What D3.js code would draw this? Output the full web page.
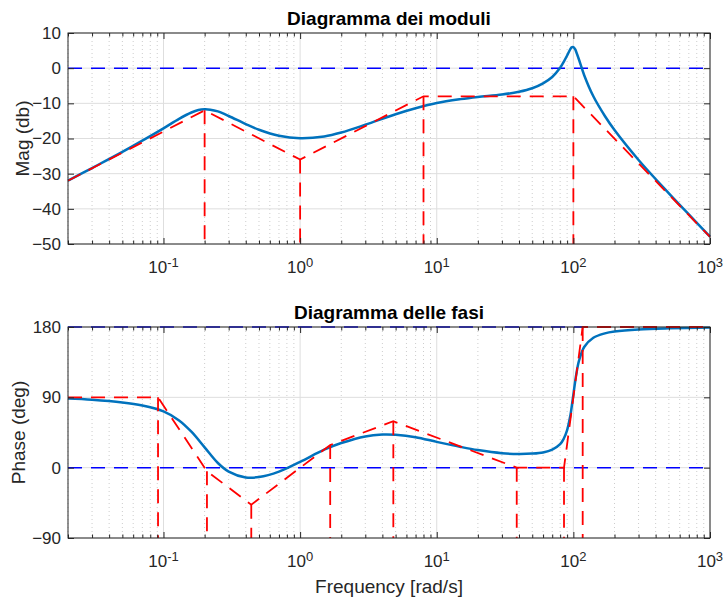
<!DOCTYPE html>
<html>
<head>
<meta charset="utf-8">
<script src="https://cdn.jsdelivr.net/npm/d3@7"></script>
<style>
  body { margin: 0; background: #fff; }
  svg { display: block; font-family: "Liberation Sans", Arial, Helvetica, sans-serif; }
</style>
</head>
<body>
<div id="chart"></div>
<script>
// Values
const magFreq = [0.02, 0.03, 0.05, 0.07, 0.1, 0.13, 0.16, 0.18, 0.2, 0.22, 0.25, 0.3, 0.4, 0.5, 0.7, 1, 1.5, 2, 3, 5, 7, 10, 15, 20, 30, 40, 50, 60, 70, 80, 85, 90, 95, 97, 100, 103, 105, 110, 120, 140, 170, 200, 300, 500, 700, 1000];
const magDb = [-32.0, -28.4, -23.8, -20.6, -17.1, -14.4, -12.6, -11.9, -11.7, -11.8, -12.3, -13.6, -15.9, -17.5, -19.2, -19.9, -19.4, -18.3, -16.1, -13.1, -11.4, -9.9, -8.8, -8.2, -7.5, -6.7, -5.7, -4.3, -2.5, 0.1, 1.8, 3.6, 5.4, 5.9, 6.0, 5.4, 4.6, 2.4, -2.0, -8.0, -13.6, -17.6, -26.1, -35.6, -41.6, -47.9];

const magAsymFreq = [0.02, 0.2, 1, 8, 100, 1000];
const magAsymDb = [-32, -12, -26, -8, -8, -48];

const phaseFreq = [0.02, 0.03, 0.05, 0.07, 0.1, 0.13, 0.16, 0.2, 0.25, 0.3, 0.4, 0.5, 0.7, 1, 1.5, 2, 3, 4, 5, 7, 10, 15, 20, 30, 40, 50, 60, 70, 80, 85, 90, 95, 97, 100, 103, 105, 110, 120, 140, 170, 200, 300, 500, 1000];
const phaseDeg = [88.5, 87.0, 83.5, 79.5, 72.0, 60.5, 46.0, 26.0, 6.0, -5.0, -12.5, -12.0, -5.0, 7.5, 23.0, 31.5, 40.0, 42.3, 42.0, 39.0, 33.0, 26.5, 22.5, 18.5, 17.5, 18.0, 19.5, 23.0, 30.0, 37.0, 48.0, 66.6, 76.7, 93.5, 109.9, 119.4, 136.9, 154.4, 166.3, 171.9, 174.2, 176.9, 178.3, 179.2];

const phaseAsymFreq = [0.02, 0.0912, 0.208, 0.439, 1.66, 4.81, 38.5, 85.4, 117, 1000];
const phaseAsymDeg = [90, 90, -4.6, -47.4, 29, 59.4, 0, 0, 180, 180];

const xTickExp = [-1, 0, 1, 2, 3];
const magTicks = [-50, -40, -30, -20, -10, 0, 10];
const phaseTicks = [-90, 0, 90, 180];

const width = 725, height = 598;
const axisColor = "#262626";

const svg = d3.select("#chart").append("svg")
  .attr("width", width)
  .attr("height", height);

const x = d3.scaleLog().domain([0.02, 1000]).range([68, 710]);
const majorX = xTickExp.map(e => Math.pow(10, e));
const minorX = x.ticks().filter(v => !majorX.some(m => Math.abs(v / m - 1) < 1e-6));

const panels = [
  {
    top: 33, bottom: 244, domain: [-50, 10], ticks: magTicks,
    title: "Diagramma dei moduli", ylabel: "Mag (db)", ylabelX: 29,
    refs: [0], freq: magFreq, vals: magDb, asymF: magAsymFreq, asymV: magAsymDb
  },
  {
    top: 327, bottom: 538, domain: [-90, 180], ticks: phaseTicks,
    title: "Diagramma delle fasi", ylabel: "Phase (deg)", ylabelX: 25,
    refs: [0, 180], freq: phaseFreq, vals: phaseDeg, asymF: phaseAsymFreq, asymV: phaseAsymDeg
  }
];

panels.forEach(p => {
  const y = d3.scaleLinear().domain(p.domain).range([p.bottom, p.top]);
  const g = svg.append("g");

  // grid
  g.append("g").selectAll("line").data(minorX).join("line")
    .attr("x1", d => x(d)).attr("x2", d => x(d))
    .attr("y1", p.top).attr("y2", p.bottom)
    .attr("stroke", "#cdcdcd").attr("stroke-width", 1)
    .attr("stroke-dasharray", "1,3");
  g.append("g").selectAll("line").data(majorX).join("line")
    .attr("x1", d => x(d)).attr("x2", d => x(d))
    .attr("y1", p.top).attr("y2", p.bottom)
    .attr("stroke", "#dedede").attr("stroke-width", 1);
  g.append("g").selectAll("line").data(p.ticks).join("line")
    .attr("x1", 68).attr("x2", 710)
    .attr("y1", d => y(d)).attr("y2", d => y(d))
    .attr("stroke", "#dedede").attr("stroke-width", 1);

  // reference lines
  g.append("g").selectAll("line").data(p.refs).join("line")
    .attr("x1", 68).attr("x2", 710)
    .attr("y1", d => y(d)).attr("y2", d => y(d))
    .attr("stroke", "#0000ff").attr("stroke-width", 1.5)
    .attr("stroke-dasharray", "14,9");

  // exact curve
  const pts = p.freq.map((f, i) => [f, p.vals[i]]);
  const line = d3.line()
    .x(d => x(d[0]))
    .y(d => y(d[1]))
    .curve(d3.curveCatmullRom.alpha(0.5));
  g.append("path")
    .datum(pts)
    .attr("fill", "none")
    .attr("stroke", "#0072bd")
    .attr("stroke-width", 2.5)
    .attr("d", line);

  // asymptotic approximation
  const asym = p.asymF.map((f, i) => [f, p.asymV[i]]);
  g.append("path")
    .datum(asym)
    .attr("fill", "none")
    .attr("stroke", "#ff0000")
    .attr("stroke-width", 1.8)
    .attr("stroke-dasharray", "14,9")
    .attr("d", d3.line().x(d => x(d[0])).y(d => y(d[1])));

  g.append("g").selectAll("line").data(asym.slice(1, -1)).join("line")
    .attr("x1", d => x(d[0])).attr("x2", d => x(d[0]))
    .attr("y1", d => y(d[1])).attr("y2", p.bottom)
    .attr("stroke", "#ff0000").attr("stroke-width", 1.8)
    .attr("stroke-dasharray", "14,9");

  // axes with inward ticks
  const h = p.bottom - p.top;
  const ax = g.append("g").attr("color", axisColor);
  ax.append("g").attr("transform", `translate(0,${p.bottom})`)
    .call(d3.axisBottom(x).tickValues(majorX).tickSize(-6).tickSizeOuter(0).tickFormat(""));
  ax.append("g").attr("transform", `translate(0,${p.bottom})`)
    .call(d3.axisBottom(x).tickValues(minorX).tickSize(-3.5).tickSizeOuter(0).tickFormat(""));
  ax.append("g").attr("transform", `translate(0,${p.top})`)
    .call(d3.axisTop(x).tickValues(majorX).tickSize(-6).tickSizeOuter(0).tickFormat(""));
  ax.append("g").attr("transform", `translate(0,${p.top})`)
    .call(d3.axisTop(x).tickValues(minorX).tickSize(-3.5).tickSizeOuter(0).tickFormat(""));
  ax.append("g").attr("transform", "translate(68,0)")
    .call(d3.axisLeft(y).tickValues(p.ticks).tickSize(-6).tickSizeOuter(0).tickPadding(7))
    .call(s => s.selectAll("text").attr("font-size", 17).attr("font-family", null).attr("fill", axisColor));
  ax.append("g").attr("transform", "translate(710,0)")
    .call(d3.axisRight(y).tickValues(p.ticks).tickSize(-6).tickSizeOuter(0).tickFormat(""));
  ax.selectAll(".domain").remove();

  g.append("rect")
    .attr("x", 68).attr("y", p.top)
    .attr("width", 642).attr("height", h)
    .attr("fill", "none").attr("stroke", axisColor).attr("stroke-width", 1);

  // x tick labels 10^n
  const lab = g.append("g").selectAll("text").data(xTickExp).join("text")
    .attr("x", d => x(Math.pow(10, d)))
    .attr("y", p.bottom + 29)
    .attr("text-anchor", "middle")
    .attr("font-size", 17)
    .attr("fill", axisColor);
  lab.append("tspan").text("10");
  lab.append("tspan").attr("dy", -6).attr("font-size", 13).text(d => d);

  // title and y label
  g.append("text")
    .attr("x", (68 + 710) / 2).attr("y", p.top - 8.5)
    .attr("text-anchor", "middle")
    .attr("font-size", 19).attr("font-weight", "bold")
    .attr("fill", "#000")
    .text(p.title);

  g.append("text")
    .attr("transform", `translate(${p.ylabelX},${(p.top + p.bottom) / 2}) rotate(-90)`)
    .attr("text-anchor", "middle")
    .attr("font-size", 19)
    .attr("fill", axisColor)
    .text(p.ylabel);
});

svg.append("text")
  .attr("x", (68 + 710) / 2).attr("y", 593)
  .attr("text-anchor", "middle")
  .attr("font-size", 19)
  .attr("fill", axisColor)
  .text("Frequency [rad/s]");
</script>
</body>
</html>
